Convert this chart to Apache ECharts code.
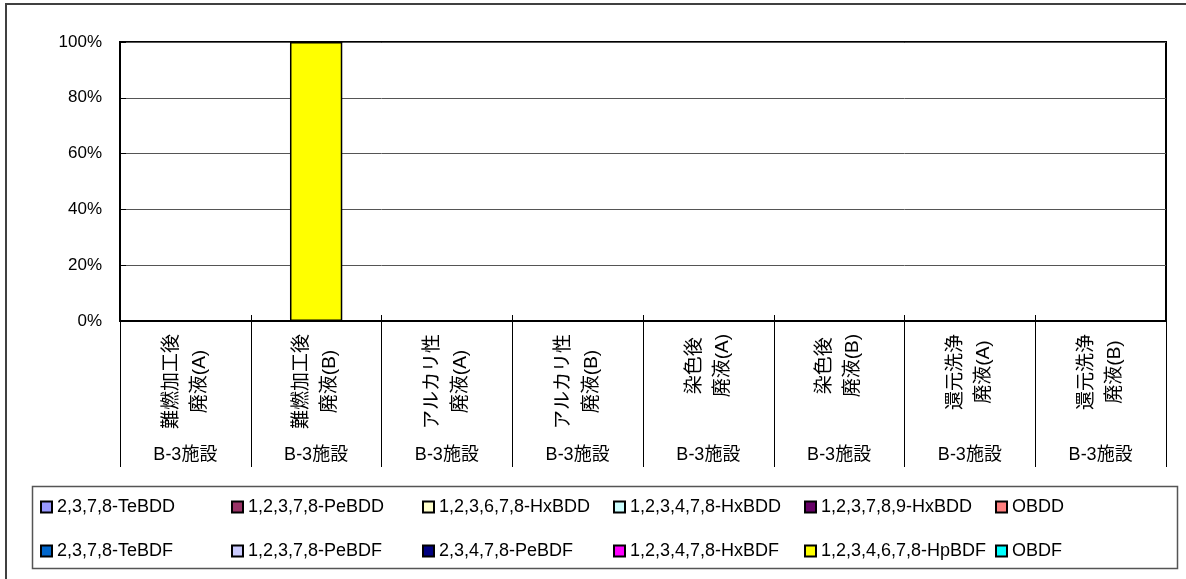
<!DOCTYPE html>
<html>
<head>
<meta charset="utf-8">
<script src="https://cdn.jsdelivr.net/npm/echarts@6/dist/echarts.min.js"></script>
<style>
  html, body { margin: 0; padding: 0; background: #fff; }
  #chart { width: 1186px; height: 579px; }
</style>
</head>
<body>
<div id="chart"></div>
<script>
    // カテゴリ（2行ラベル）と施設名
    var categories = ['難燃加工後\n廃液(A)', '難燃加工後\n廃液(B)', 'アルカリ性\n廃液(A)', 'アルカリ性\n廃液(B)',
        '染色後\n廃液(A)', '染色後\n廃液(B)', '還元洗浄\n廃液(A)', '還元洗浄\n廃液(B)'];
    var facility = ['B-3施設', 'B-3施設', 'B-3施設', 'B-3施設', 'B-3施設', 'B-3施設', 'B-3施設', 'B-3施設'];
    var yTicks = [0, 20, 40, 60, 80, 100];

    // 各異性体の構成比（%）
    var teBDD = [0, 0, 0, 0, 0, 0, 0, 0];
    var peBDD = [0, 0, 0, 0, 0, 0, 0, 0];
    var hxBDD678 = [0, 0, 0, 0, 0, 0, 0, 0];
    var hxBDD478 = [0, 0, 0, 0, 0, 0, 0, 0];
    var hxBDD789 = [0, 0, 0, 0, 0, 0, 0, 0];
    var oBDD = [0, 0, 0, 0, 0, 0, 0, 0];
    var teBDF = [0, 0, 0, 0, 0, 0, 0, 0];
    var peBDF123 = [0, 0, 0, 0, 0, 0, 0, 0];
    var peBDF234 = [0, 0, 0, 0, 0, 0, 0, 0];
    var hxBDF = [0, 0, 0, 0, 0, 0, 0, 0];
    var hpBDF = [0, 100, 0, 0, 0, 0, 0, 0];
    var oBDF = [0, 0, 0, 0, 0, 0, 0, 0];

    var names = ['2,3,7,8-TeBDD', '1,2,3,7,8-PeBDD', '1,2,3,6,7,8-HxBDD', '1,2,3,4,7,8-HxBDD', '1,2,3,7,8,9-HxBDD', 'OBDD',
        '2,3,7,8-TeBDF', '1,2,3,7,8-PeBDF', '2,3,4,7,8-PeBDF', '1,2,3,4,7,8-HxBDF', '1,2,3,4,6,7,8-HpBDF', 'OBDF'];
    var values = [teBDD, peBDD, hxBDD678, hxBDD478, hxBDD789, oBDD, teBDF, peBDF123, peBDF234, hxBDF, hpBDF, oBDF];
    var colors = ['#9999FF', '#993366', '#FFFFCC', '#CCFFFF', '#660066', '#FF8080',
        '#0066CC', '#CCCCFF', '#000080', '#FF00FF', '#FFFF00', '#00FFFF'];

    var font = '"Liberation Sans", Arial, "Noto Sans CJK JP", sans-serif';
    var catFontSize = 19;

    var series = [];
    for (var i = 0; i < names.length; i++) {
        series.push({
            name: names[i],
            type: 'bar',
            stack: 'total',
            barWidth: '40%',
            data: values[i],
            itemStyle: { color: colors[i], borderColor: '#000', borderWidth: 1.5 }
        });
    }

    // 回転ラベルの各行を最長行に対して中央揃えにする（右側に余白を足す）
    var ctx = document.createElement('canvas').getContext('2d');
    ctx.font = catFontSize + 'px ' + font;
    var rich = {};
    categories.forEach(function (c, ci) {
        var lines = c.split('\n');
        var w = lines.map(function (s) { return ctx.measureText(s).width; });
        var maxW = Math.max.apply(null, w);
        lines.forEach(function (s, li) {
            rich['c' + ci + '_' + li] = {
                fontSize: catFontSize, lineHeight: 28, color: '#000', fontFamily: font,
                padding: [0, (maxW - w[li]) / 2, 0, 0]
            };
        });
    });

    var legendText = { fontSize: 18, fontFamily: font, color: '#000', width: 174, lineHeight: 20 };

    var myChart = echarts.init(document.getElementById('chart'));
    var option = {
        animation: false,
        backgroundColor: '#fff',
        textStyle: { fontFamily: font },
        graphic: [
            { type: 'rect', shape: { x: 6, y: 4, width: 1200, height: 600 },
              style: { fill: 'none', stroke: '#404040', lineWidth: 2 }, silent: true },
            { type: 'rect', shape: { x: 32.5, y: 486.5, width: 1145, height: 82 },
              style: { fill: 'none', stroke: '#555', lineWidth: 1.5 }, silent: true }
        ],
        legend: [
            { data: names.slice(0, 6), left: 40, top: 497, width: 1160, padding: 0, itemGap: 0, icon: 'rect',
              itemWidth: 11, itemHeight: 11, textStyle: legendText },
            { data: names.slice(6), left: 40, top: 541, width: 1160, padding: 0, itemGap: 0, icon: 'rect',
              itemWidth: 11, itemHeight: 11, textStyle: legendText }
        ],
        grid: {
            left: 120, right: 20, top: 42, bottom: 258,
            show: true, borderColor: '#000', borderWidth: 2
        },
        xAxis: [
            {
                type: 'category',
                data: categories,
                position: 'bottom',
                axisLine: { show: true, lineStyle: { color: '#000', width: 2 } },
                axisTick: { show: true, interval: 0, length: 146, lineStyle: { color: '#000', width: 1 } },
                axisLabel: {
                    interval: 0, rotate: 90, margin: 13,
                    formatter: function (v, idx) {
                        return v.split('\n').map(function (s, li) {
                            return '{c' + idx + '_' + li + '|' + s + '}';
                        }).join('\n');
                    },
                    rich: rich
                }
            },
            {
                type: 'category',
                data: facility,
                position: 'bottom',
                axisLine: { show: false },
                axisTick: { show: true, interval: 0, inside: true, length: 6, lineStyle: { color: '#000', width: 1 } },
                axisLabel: { interval: 0, margin: 125, fontSize: 18, color: '#000', fontFamily: font }
            }
        ],
        yAxis: {
            type: 'value',
            min: yTicks[0],
            max: yTicks[yTicks.length - 1],
            interval: 20,
            axisLine: { show: true, lineStyle: { color: '#000', width: 2 } },
            axisTick: { show: true, inside: true, length: 6, lineStyle: { color: '#000' } },
            splitLine: { lineStyle: { color: '#555', width: 1 } },
            axisLabel: { formatter: '{value}%', margin: 18, fontSize: 17, color: '#000', fontFamily: font }
        },
        series: series
    };
    myChart.setOption(option);
</script>
</body>
</html>
